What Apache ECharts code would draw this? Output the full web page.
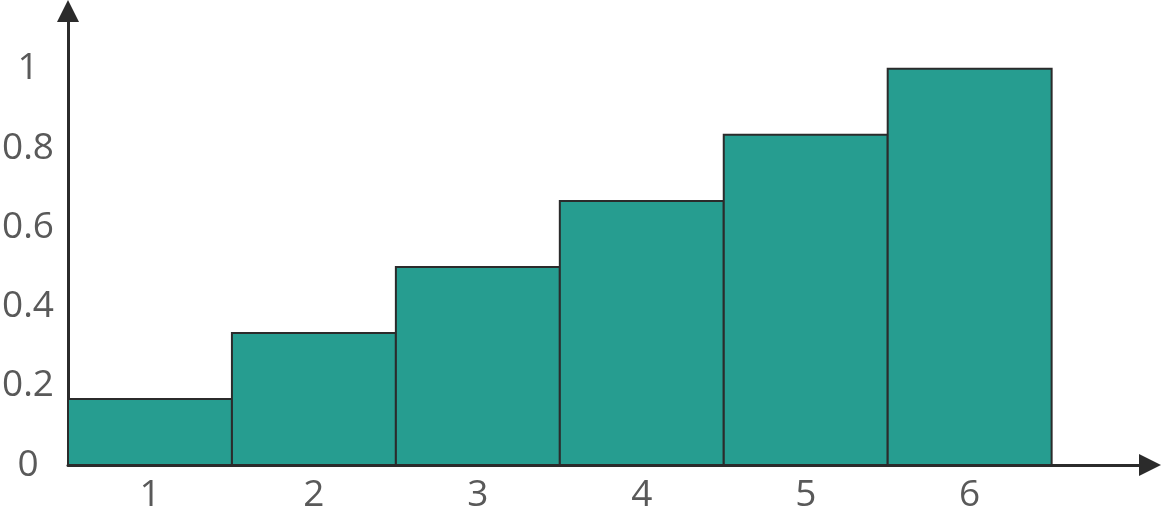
<!DOCTYPE html>
<html>
<head>
<meta charset="utf-8">
<script src="https://cdn.jsdelivr.net/npm/echarts@6/dist/echarts.min.js"></script>
<style>
  html, body { margin: 0; padding: 0; background: #fff; }
  #chart { width: 1161px; height: 510px; }
</style>
</head>
<body>
<div id="chart"></div>
<script>
// dados
const categories = [1, 2, 3, 4, 5, 6];
const values = [1/6, 2/6, 3/6, 4/6, 5/6, 1];
const yTicks = [0, 0.2, 0.4, 0.6, 0.8, 1];

const AXIS = '#2b2b2b';
const LABEL = '#595959';
const FILL = '#269d90';

const chart = echarts.init(document.getElementById('chart'));

chart.setOption({
  animation: false,
  // outerBoundsMode 'none': não deixa o v6 encolher o grid por causa dos rótulos
  grid: { left: 68, right: 11, top: 11, bottom: 45, outerBoundsMode: 'none' },
  xAxis: {
    type: 'value',
    min: 0.5,
    max: 7.1,
    splitLine: { show: false },
    axisTick: { show: false },
    axisLine: {
      show: true,
      lineStyle: { color: AXIS, width: 3 },
      symbol: ['none', 'triangle'],
      symbolSize: [22, 22]
    },
    axisLabel: {
      customValues: categories,
      color: LABEL,
      fontFamily: 'Open Sans',
      fontSize: 37,
      margin: 12
    }
  },
  yAxis: {
    type: 'value',
    min: 0,
    max: 1.146,
    splitLine: { show: false },
    axisTick: { show: false },
    axisLine: {
      show: true,
      lineStyle: { color: AXIS, width: 3 },
      symbol: ['none', 'triangle'],
      symbolSize: [22, 22]
    },
    axisLabel: {
      customValues: yTicks,
      formatter: v => String(v),
      color: LABEL,
      fontFamily: 'Open Sans',
      fontSize: 37,
      align: 'center',
      margin: 40
    }
  },
  series: [{
    type: 'custom',
    data: categories.map((c, i) => [c, values[i]]),
    encode: { x: 0, y: 1 },
    renderItem: (params, api) => {
      const x = api.value(0), v = api.value(1);
      const p0 = api.coord([x - 0.5, v]);
      const p1 = api.coord([x + 0.5, 0]);
      return {
        type: 'rect',
        shape: { x: p0[0], y: p0[1], width: p1[0] - p0[0], height: p1[1] - p0[1] },
        style: { fill: FILL, stroke: AXIS, lineWidth: 2 }
      };
    }
  }]
});
</script>
</body>
</html>
